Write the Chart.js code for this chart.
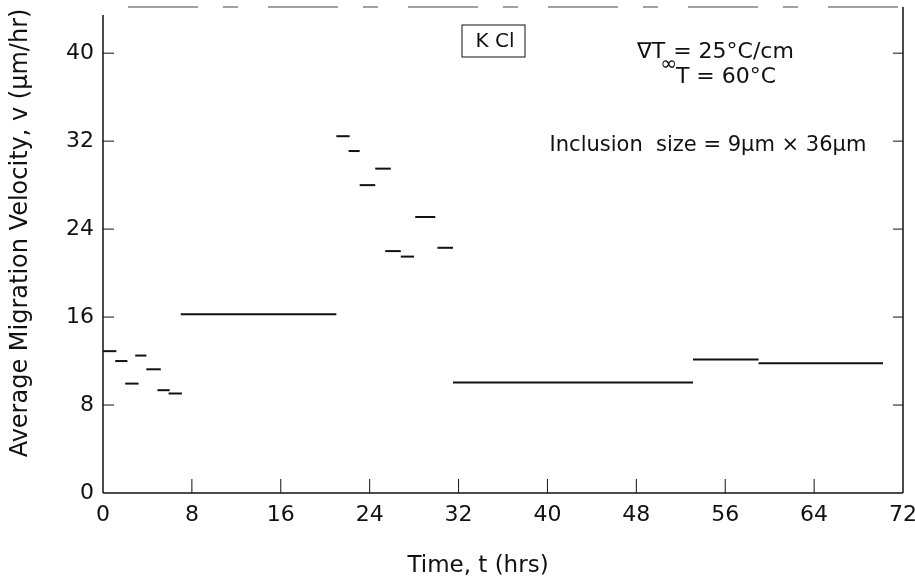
<!DOCTYPE html>
<html>
<head>
<meta charset="utf-8">
<script src="https://cdn.jsdelivr.net/npm/chart.js@4/dist/chart.umd.min.js"></script>
<style>
  html, body { margin: 0; padding: 0; background: #fff; }
  #wrap { width: 915px; height: 588px; position: relative; }
</style>
</head>
<body>
<div id="wrap"><canvas id="velChart"></canvas></div>
<script>
// each measured interval: start time, end time (hrs), average velocity (um/hr)
const SEG_START = [0, 1.1, 2.0, 2.9, 3.9, 4.9, 5.9, 7.0, 21.0, 22.1, 23.1, 24.5, 25.4, 26.8, 28.1, 30.1, 31.5, 53.1, 59.0];
const SEG_END   = [1.2, 2.2, 3.2, 3.9, 5.2, 6.0, 7.1, 21.0, 22.2, 23.1, 24.5, 25.9, 26.8, 28.0, 29.9, 31.5, 53.1, 59.0, 70.2];
const SEG_VEL   = [12.9, 12.0, 9.95, 12.5, 11.25, 9.35, 9.05, 16.25, 32.45, 31.1, 28.0, 29.5, 22.0, 21.5, 25.1, 22.3, 10.05, 12.15, 11.8];

const X_TICKS = [0, 8, 16, 24, 32, 40, 48, 56, 64, 72];
const Y_TICKS = [0, 8, 16, 24, 32, 40];

const X_TITLE = 'Time, t (hrs)';
const Y_TITLE = 'Average Migration Velocity, v (\u03bcm/hr)';

const FONT = '"DejaVu Sans", Verdana, sans-serif';
const INK  = '#111';

const datasets = SEG_VEL.map((v, i) => ({
    data: [{ x: SEG_START[i], y: v }, { x: SEG_END[i], y: v }],
    borderColor: INK,
    borderWidth: 2,
    pointRadius: 0,
    tension: 0,
}));

// keep the plot box where the original puts it (no label overhang padding)
const noPad = s => { s.paddingLeft = s.paddingRight = s.paddingTop = s.paddingBottom = 0; };

// frame with inward ticks, axis titles and the text notes
const decor = {
    id: 'decor',
    afterDatasetsDraw(chart) {
        const { ctx, chartArea: a, scales: { x, y } } = chart;
        const line = (x1, y1, x2, y2) => { ctx.beginPath(); ctx.moveTo(x1, y1); ctx.lineTo(x2, y2); ctx.stroke(); };
        ctx.save();
        ctx.strokeStyle = INK;
        ctx.lineWidth = 1.5;
        line(a.left, a.top + 8, a.left, a.bottom);
        line(a.left, a.bottom, a.right, a.bottom);
        line(a.right, a.top, a.right, a.bottom);
        ctx.lineWidth = 1;
        ctx.strokeStyle = '#444';
        ctx.setLineDash([70, 25, 15, 30]);
        line(a.left + 25, a.top, a.right, a.top);
        ctx.setLineDash([]);
        ctx.strokeStyle = INK;

        X_TICKS.slice(1, -1).forEach(v => {
            const px = x.getPixelForValue(v);
            line(px, a.bottom, px, a.bottom - 14);
        });
        Y_TICKS.slice(1).forEach(v => {
            const py = y.getPixelForValue(v);
            line(a.left, py, a.left + 11, py);
            line(a.right, py, a.right - 10, py);
        });

        ctx.fillStyle = INK;
        ctx.textBaseline = 'middle';

        // axis titles
        ctx.font = `23px ${FONT}`;
        ctx.textAlign = 'center';
        ctx.fillText(X_TITLE, 478, 566);
        ctx.font = `24px ${FONT}`;
        ctx.save();
        ctx.translate(21, 233);
        ctx.rotate(-Math.PI / 2);
        ctx.fillText(Y_TITLE, 0, 0);
        ctx.restore();

        // KCl label in a box
        ctx.font = `20px ${FONT}`;
        ctx.fillText('K Cl', 495, 42);
        ctx.lineWidth = 1;
        ctx.strokeRect(462, 25, 63, 32);

        // gradient note with subscript
        ctx.textAlign = 'left';
        ctx.font = `22px ${FONT}`;
        ctx.fillText('\u2207T', 637, 52);
        const w = ctx.measureText('\u2207T').width;
        ctx.font = `20px ${FONT}`;
        ctx.fillText('\u221e', 637 + w - 5, 65);
        ctx.font = `22px ${FONT}`;
        ctx.fillText('= 25\u00b0C/cm', 637 + w + 8, 52);

        ctx.textAlign = 'center';
        ctx.fillText('T = 60\u00b0C', 726, 77);
        ctx.font = `21px ${FONT}`;
        ctx.fillText('Inclusion  size = 9\u03bcm \u00d7 36\u03bcm', 708, 146);
        ctx.restore();
    },
};

new Chart(document.getElementById('velChart').getContext('2d'), {
    type: 'line',
    data: { datasets },
    options: {
        responsive: true,
        maintainAspectRatio: false,
        animation: false,
        layout: { autoPadding: false, padding: { left: 0, right: 12, top: 7, bottom: 0 } },
        plugins: { legend: { display: false }, tooltip: { enabled: false } },
        scales: {
            x: {
                type: 'linear',
                min: 0,
                max: 72,
                afterBuildTicks: s => { s.ticks = X_TICKS.map(v => ({ value: v })); },
                afterFit: s => { s.height = 95; noPad(s); },
                grid: { display: false, drawTicks: false },
                border: { display: false },
                ticks: { color: INK, padding: 9, maxRotation: 0, autoSkip: false, font: { family: FONT, size: 22 } },
            },
            y: {
                min: 0,
                max: 44.2,
                afterBuildTicks: s => { s.ticks = Y_TICKS.map(v => ({ value: v })); },
                afterFit: s => { s.width = 103; noPad(s); },
                grid: { display: false, drawTicks: false },
                border: { display: false },
                ticks: { color: INK, padding: 9, font: { family: FONT, size: 22 } },
            },
        },
    },
    plugins: [decor],
});
</script>
</body>
</html>
